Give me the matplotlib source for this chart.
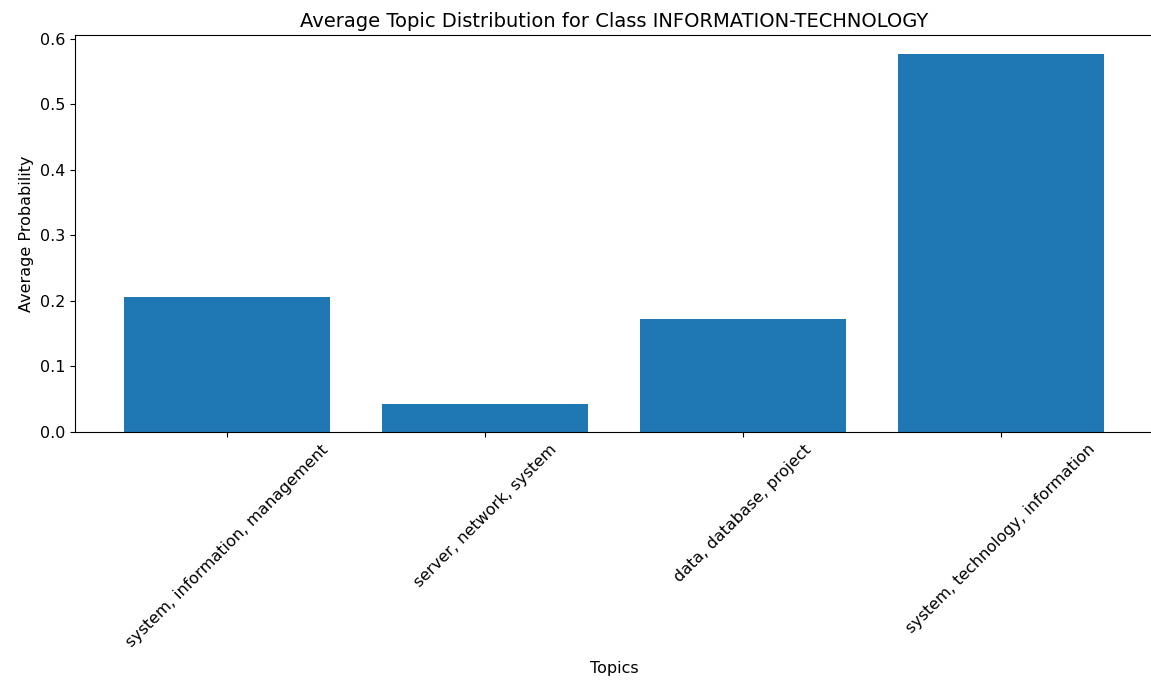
import matplotlib
matplotlib.use("Agg")
import matplotlib.pyplot as plt

# Average topic probabilities for the class
class_name = "INFORMATION-TECHNOLOGY"
topics = ["system, information, management", "server, network, system",
          "data, database, project", "system, technology, information"]
avg_prob = [0.206, 0.043, 0.172, 0.577]

plt.rcParams["font.size"] = 11.5

fig = plt.figure(figsize=(11.51, 6.81), dpi=100)
ax = fig.add_axes([75 / 1151, 249 / 681, 1078 / 1151, 397 / 681])

ax.bar(topics, avg_prob, color="#1f77b4")
ax.set_title(f"Average Topic Distribution for Class {class_name}", fontsize=14)
ax.set_xlabel("Topics", labelpad=8)
ax.set_ylabel("Average Probability")
ax.tick_params(axis="x", labelrotation=45)

fig.savefig("out.png", dpi=100)
